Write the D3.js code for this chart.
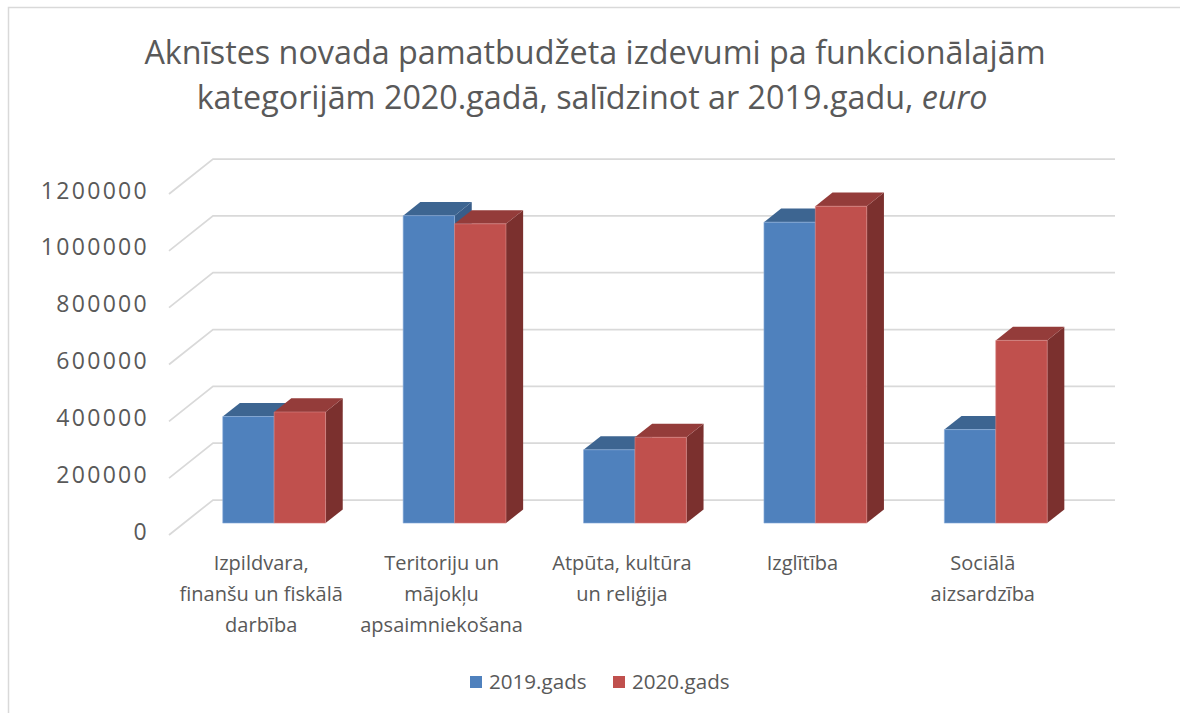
<!DOCTYPE html>
<html>
<head>
<meta charset="utf-8">
<script src="https://cdn.jsdelivr.net/npm/d3@7"></script>
<style>
  body { margin: 0; background: #fff; }
  svg { font-family: "Open Sans", sans-serif; }
</style>
</head>
<body>
<svg id="chart" width="1180" height="713"></svg>
<script>
// data
const categories = [
  ["Izpildvara,", "finanšu un fiskālā", "darbība"],
  ["Teritoriju un", "mājokļu", "apsaimniekošana"],
  ["Atpūta, kultūra", "un reliģija"],
  ["Izglītība"],
  ["Sociālā", "aizsardzība"]
];
const seriesNames = ["2019.gads", "2020.gads"];
const values2019 = [375000, 1082000, 258000, 1059000, 329000];
const values2020 = [391000, 1053000, 302000, 1115000, 643000];
const yTicks = [0, 200000, 400000, 600000, 800000, 1000000, 1200000];
const titleLines = ["Aknīstes novada pamatbudžeta izdevumi pa funkcionālajām", "kategorijām 2020.gadā, salīdzinot ar 2019.gadu, "];

const colors = [
  { front: "#4f81bd", top: "#3d6591", side: "#385d89", edge: "#8fb0dc" },
  { front: "#c0504d", top: "#943c3a", side: "#7b302e", edge: "#d98886" }
];

const svg = d3.select("#chart");

// outer border
svg.append("rect")
  .attr("x", 8.5).attr("y", 7.5)
  .attr("width", 1200).attr("height", 720)
  .attr("fill", "none")
  .attr("stroke", "#d9d9d9")
  .attr("stroke-width", 1.5);

// 3d plot geometry (front-floor origin and depth offset)
const x0 = 169, y0 = 535;
const depthX = 44, depthY = 35;
const plotW = 902;
const d0 = 0.34, d1 = 0.73; // bar depth range

const x = d3.scaleBand().domain(d3.range(categories.length)).range([0, plotW]).paddingInner(0.43).paddingOuter(0.215);
const xs = d3.scaleBand().domain(d3.range(seriesNames.length)).range([0, x.bandwidth()]);
const y = d3.scaleLinear().domain([0, 1200000]).range([0, 341]);

function pt(px, h, d) {
  return [x0 + px + d * depthX, y0 - y(h) - d * depthY];
}

// gridlines: side wall diagonal + back wall horizontal
const grid = svg.append("g");
yTicks.forEach(t => {
  const a = pt(0, t, 0), b = pt(0, t, 1), c = pt(plotW, t, 1);
  grid.append("polyline")
    .attr("points", [a, b, c].map(p => p.join(",")).join(" "))
    .attr("fill", "none")
    .attr("stroke", "#d9d9d9")
    .attr("stroke-width", 1.75);
});

// y tick labels
svg.append("g").selectAll("text")
  .data(yTicks)
  .enter().append("text")
  .attr("x", 149)
  .attr("y", t => pt(0, t, 0)[1])
  .attr("dy", "0.2em")
  .attr("text-anchor", "end")
  .attr("font-size", 23)
  .attr("letter-spacing", 2.3)
  .attr("fill", "#595959")
  .text(t => t);

// bars
const series = [values2019, values2020];
const bars = svg.append("g");
categories.forEach((c, i) => {
  series.forEach((vals, s) => {
    const v = vals[i];
    const xl = x(i) + xs(s), xr = xl + xs.bandwidth();
    const col = colors[s];
    const poly = (pts, fill) => bars.append("polygon")
      .attr("points", pts.map(p => p.join(",")).join(" "))
      .attr("fill", fill);
    // side face
    poly([pt(xr, 0, d0), pt(xr, 0, d1), pt(xr, v, d1), pt(xr, v, d0)], col.side);
    // top face
    poly([pt(xl, v, d0), pt(xl, v, d1), pt(xr, v, d1), pt(xr, v, d0)], col.top);
    // front face
    poly([pt(xl, 0, d0), pt(xl, v, d0), pt(xr, v, d0), pt(xr, 0, d0)], col.front)
      .attr("stroke", col.edge).attr("stroke-width", 0.6);
  });
});

// category labels
const labels = svg.append("g");
categories.forEach((lines, i) => {
  const t = labels.append("text")
    .attr("text-anchor", "middle")
    .attr("font-size", 20)
    .attr("fill", "#595959");
  lines.forEach((ln, k) => {
    t.append("tspan")
      .attr("x", x0 + x(i) + x.bandwidth() / 2 + 2)
      .attr("y", 570 + k * 31)
      .text(ln);
  });
});

// title
const title = svg.append("text")
  .attr("text-anchor", "middle")
  .attr("font-size", 32.3)
  .attr("fill", "#595959");
title.append("tspan").attr("x", 595).attr("y", 64).text(titleLines[0]);
title.append("tspan").attr("x", 592).attr("y", 109).text(titleLines[1]);
title.append("tspan").attr("font-style", "italic").text("euro");

// legend
const legend = svg.append("g");
const legendX = [470, 613];
seriesNames.forEach((name, s) => {
  legend.append("rect")
    .attr("x", legendX[s]).attr("y", 676)
    .attr("width", 12).attr("height", 12)
    .attr("fill", colors[s].front);
  legend.append("text")
    .attr("x", legendX[s] + 19).attr("y", 689)
    .attr("font-size", 20.6)
    .attr("fill", "#595959")
    .text(name);
});
</script>
</body>
</html>
